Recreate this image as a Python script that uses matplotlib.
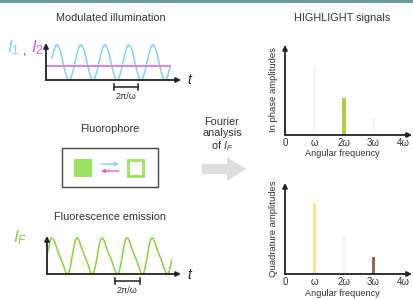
import numpy as np
import matplotlib.pyplot as plt
from matplotlib.patches import Rectangle, Polygon

plt.rcParams['font.family'] = ['Liberation Sans', 'DejaVu Sans']
plt.rcParams['mathtext.fontset'] = 'custom'
plt.rcParams['mathtext.rm'] = 'Liberation Sans'
plt.rcParams['mathtext.it'] = 'Liberation Sans:italic'

## Data ##
freq_labels = ['0', 'ω', '2ω', '3ω', '4ω']
freqs = [1, 2, 3]
in_phase = [0.0, 0.41, 0.0]
quadrature = [0.78, 0.0, 0.185]
illum_level = -0.2          # constant I2 level (relative to I1 swing)
fluo_harmonic = 0.22        # 2nd-harmonic weight of the emission curve

## Colours ##
CYAN = '#7fd4f2'
MAGENTA = '#dd5ee0'
GREEN = '#84d43c'
SQ_GREEN = '#9be35e'
AX = '#222222'
TXT = '#333333'
bar_colors_in = ['#a9d140', '#a9d140', '#a9d140']
bar_colors_q = ['#fde48c', '#fde48c', '#a8643a']
GHOST = '#f6f6f6'

W, H = 414, 299
fig = plt.figure(figsize=(W / 100, H / 100), dpi=100)

bg = fig.add_axes([0, 0, 1, 1], zorder=0)
bg.set_xlim(0, W)
bg.set_ylim(H, 0)
bg.axis('off')


def px_axes(left, top, right, bottom):
    ax = fig.add_axes([left / W, 1 - bottom / H, (right - left) / W, (bottom - top) / H], zorder=2)
    ax.patch.set_alpha(0)
    ax.axis('off')
    return ax


def arrow_axes(ax):
    style = dict(arrowstyle='-|>', color=AX, lw=1.3, mutation_scale=7, shrinkA=0, shrinkB=0)
    ax.annotate('', xy=(1, 0), xytext=(0, 0), xycoords='axes fraction', arrowprops=style)
    ax.annotate('', xy=(0, 1), xytext=(0, 0), xycoords='axes fraction', arrowprops=style)


# top strip
bg.add_patch(Rectangle((0, 0), W, 3, color='#6b9aa4', lw=0))

# titles
title_kw = dict(ha='center', va='center', fontsize=7.8, color=TXT)
bg.text(111, 18, 'Modulated illumination', **title_kw)
bg.text(110, 129, 'Fluorophore', **title_kw)
bg.text(110, 217, 'Fluorescence emission', **title_kw)
bg.text(342, 18, 'HIGHLIGHT signals', **title_kw)

### Modulated illumination ###
ax1 = px_axes(46, 43, 181, 80)
ax1.set_xlim(0, 135 / 24)
ax1.set_ylim(-1.0, 1.114)
t1 = np.linspace(0.25, 5.17, 400)
ax1.plot(t1, np.cos(2 * np.pi * (t1 - 0.458)), color=CYAN, lw=1.1, clip_on=False)
ax1.plot([0, 5.17], [illum_level, illum_level], color=MAGENTA, lw=1.1, clip_on=False)
arrow_axes(ax1)
ax1.plot([2.83, 3.83], [-1.4, -1.4], color=AX, lw=1.1, clip_on=False)
for x in (2.83, 3.83):
    ax1.plot([x, x], [-1.25, -1.55], color=AX, lw=1.1, clip_on=False)
ax1.text(3.33, -1.97, '2π/ω', ha='center', va='center', fontsize=6.5, color=TXT)

bg.text(7, 48, r'$\mathit{I}_{1}$', color=CYAN, fontsize=12.5, va='center')
bg.text(23, 51, ',', color=TXT, fontsize=9, va='center')
bg.text(31, 48, r'$\mathit{I}_{2}$', color=MAGENTA, fontsize=12.5, va='center')
bg.text(187, 80, r'$\mathit{t}$', color=AX, fontsize=10, va='center')

### Fluorophore ###
bg.add_patch(Rectangle((62, 148), 96, 39, fill=False, ec='#444444', lw=1))
bg.add_patch(Rectangle((74, 159), 18, 18, color=SQ_GREEN, lw=0))
bg.add_patch(Rectangle((128, 160), 15, 16, fill=False, ec=SQ_GREEN, lw=2))
bg.annotate('', xy=(119, 164), xytext=(101, 164),
            arrowprops=dict(arrowstyle='-|>', color=CYAN, lw=1, mutation_scale=5, shrinkA=0, shrinkB=0))
bg.annotate('', xy=(101, 171), xytext=(119, 171),
            arrowprops=dict(arrowstyle='-|>', color=MAGENTA, lw=1, mutation_scale=5, shrinkA=0, shrinkB=0))

### Fluorescence emission ###
ax2 = px_axes(47, 236, 181, 274)
ax2.set_xlim(0, 134 / 25)
ax2.set_ylim(-1.08, 1.20)
t2 = np.linspace(0.04, 4.98, 400)
theta = 2 * np.pi * (t2 - 0.2) + 1.196
ax2.plot(t2, np.sin(theta) + fluo_harmonic * np.sin(2 * theta), color=GREEN, lw=1.1, clip_on=False)
arrow_axes(ax2)
yb = -1.08 - 7 / 36 * 2.2
ax2.plot([2.72, 3.72], [yb, yb], color=AX, lw=1.1, clip_on=False)
for x in (2.72, 3.72):
    ax2.plot([x, x], [yb + 0.18, yb - 0.18], color=AX, lw=1.1, clip_on=False)
ax2.text(3.22, -1.08 - 16 / 36 * 2.2, '2π/ω', ha='center', va='center', fontsize=6.5, color=TXT)

bg.text(13, 238, r'$\mathit{I}_{F}$', color=GREEN, fontsize=12.5, va='center')
bg.text(187, 275, r'$\mathit{t}$', color=AX, fontsize=10, va='center')

### Fourier analysis arrow ###
bg.text(222, 135, 'Fourier\nanalysis\nof $\\mathit{I}_{\\mathit{F}}$', ha='center', va='center',
        fontsize=7.8, color=TXT, linespacing=1.15)
bg.add_patch(Polygon([(202, 164), (227, 164), (227, 157), (246, 169),
                      (227, 181), (227, 174), (202, 174)], closed=True, color='#dddddd', lw=0))

### HIGHLIGHT spectra ###
def spectrum(top, bottom, values, ghost, colors, ylabel):
    ax = px_axes(285, top, 412, bottom)
    ax.set_xlim(0, 127 / 29.5)
    ax.set_ylim(0, 1)
    ax.bar(freqs, ghost, width=0.12, color=GHOST, zorder=1)
    ax.bar(freqs, values, width=0.12, color=colors, zorder=2)
    arrow_axes(ax)
    h = bottom - top
    for i, lab in enumerate(freq_labels):
        ax.text(i, -8 / h, lab, ha='center', va='center', fontsize=7, color=TXT,
                transform=ax.get_xaxis_transform())
    ax.text(1.95, -19 / h, 'Angular frequency', ha='center', va='center', fontsize=6.6,
            color=TXT, transform=ax.get_xaxis_transform())
    ax.text(-11 / 127, 0.5, ylabel, rotation=90, ha='center', va='center', fontsize=6.8,
            color=TXT, transform=ax.transAxes)
    return ax


spectrum(45, 135, in_phase, quadrature, bar_colors_in, 'In phase amplitudes')
spectrum(183, 274, quadrature, in_phase, bar_colors_q, 'Quadrature amplitudes')

fig.savefig('out.png', dpi=100)
